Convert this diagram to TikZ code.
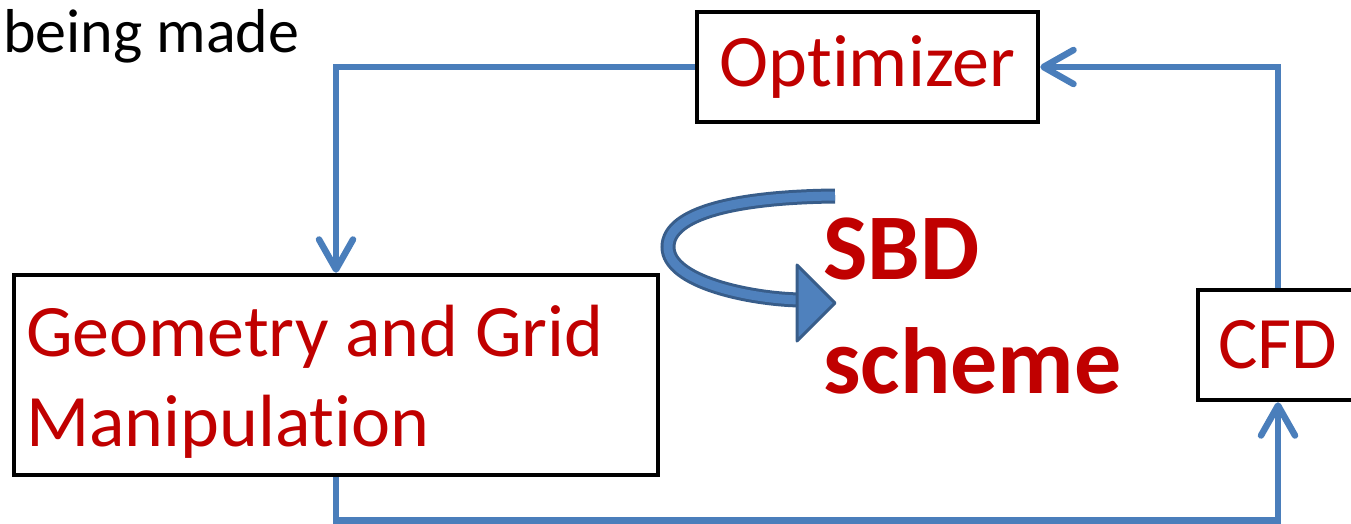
\documentclass[tikz,border=0pt]{standalone}
\usepackage{fontspec}
\setmainfont{Carlito}[Ligatures=NoCommon]
\usepackage{tikz}
\usetikzlibrary{arrows.meta,positioning}
\definecolor{boxred}{HTML}{C00000}
\definecolor{linkblue}{HTML}{4A7EBB}
\definecolor{turnfill}{HTML}{4F81BD}
\definecolor{turnedge}{HTML}{385D8A}
\tikzset{block node/.style={draw=black, line width=4.5pt, inner sep=0pt,
    text=boxred, font=\fontsize{74}{90}\selectfont}}
\tikzset{loop edge/.style={draw=linkblue, line width=6.5pt,
    -{Straight Barb[length=30pt,width=34pt,round]}}}
\tikzset{plain text/.style={anchor=base west, inner sep=0pt}}

\begin{document}
\begin{tikzpicture}
          [x=1pt, y=-1pt]
          \useasboundingbox (0,0) rectangle (1351,524);
          \clip (0,0) rectangle (1351,524);
          \node [plain text, font=\fontsize{62}{74}\selectfont] (made) at (3,53) {being made};
          \node [block node, minimum width=341pt, minimum height=110pt] (opt) at (867.5,67) {Optimizer};
          \node [block node, minimum width=644pt, minimum height=200pt, text width=620pt,
                 inner xsep=12pt, text height=64pt, align=flush left] (geo) at (336,375) {Geometry and Grid\\Manipulation};
          \node [block node, minimum width=160pt, minimum height=110pt] (cfd) at (1278,345) {CFD};
          \node [plain text, text=boxred, font=\fontsize{94}{112}\selectfont\bfseries] (sbd) at (823,279) {SBD};
          \node [plain text, text=boxred, font=\fontsize{94}{112}\selectfont\bfseries] (scheme) at (823,393) {scheme};

          \draw [loop edge]  (opt.west) -| (geo.north);
          \draw [loop edge]  (geo.south) -- ++(0,43) -| (cfd.south);
          \draw [loop edge]  (cfd.north) |- (opt.east);

          % the turning arrow beside the scheme name
          \draw [draw=turnedge, line width=3pt, double=turnfill, double distance=9pt]
                (835,196) .. controls (740,197) and (668,212) .. (668,247)
                          .. controls (668,282) and (750,299) .. (800,300);
          \filldraw [fill=turnfill, draw=turnedge, line width=3pt, line join=round]
                (797,265) -- (835,303) -- (797,341) -- cycle;
        \end{tikzpicture}
\end{document}
